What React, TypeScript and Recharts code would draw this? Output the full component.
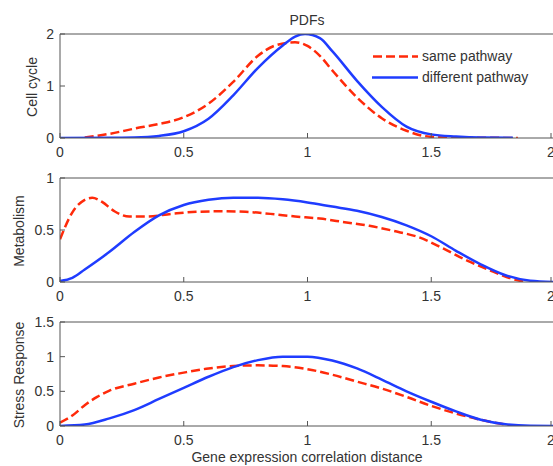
import React from 'react';
import { LineChart, Line, XAxis, YAxis } from 'recharts';

const RED = '#ff2a0a';
const BLUE = '#1f3cff';
const TXT = '#333';
const FONT = '"Liberation Sans", Arial, sans-serif';

const xTicks = [0, 0.5, 1, 1.5, 2];

// Cell cycle
const cellSameX = [0.1, 0.2, 0.3, 0.4, 0.5, 0.6, 0.7, 0.8, 0.87, 0.95, 1.0, 1.05, 1.1, 1.2, 1.3, 1.4, 1.47, 1.55, 1.7, 1.85];
const cellSameY = [0.01, 0.08, 0.18, 0.27, 0.4, 0.66, 1.08, 1.58, 1.78, 1.84, 1.77, 1.58, 1.3, 0.78, 0.38, 0.14, 0.04, 0.01, 0.005, 0];
const cellDiffX = [0, 0.2, 0.3, 0.4, 0.5, 0.6, 0.7, 0.8, 0.9, 0.95, 0.99, 1.05, 1.1, 1.2, 1.3, 1.4, 1.5, 1.6, 1.7, 1.83];
const cellDiffY = [0, 0.005, 0.01, 0.04, 0.13, 0.37, 0.82, 1.35, 1.78, 1.95, 2.0, 1.92, 1.67, 1.1, 0.6, 0.22, 0.07, 0.03, 0.01, 0.005];

// Metabolism
const metaSameX = [0, 0.05, 0.1, 0.13, 0.17, 0.22, 0.28, 0.35, 0.45, 0.55, 0.65, 0.75, 0.85, 0.95, 1.05, 1.15, 1.25, 1.35, 1.45, 1.55, 1.65, 1.75, 1.82, 1.88];
const metaSameY = [0.41, 0.67, 0.79, 0.81, 0.77, 0.68, 0.63, 0.63, 0.655, 0.675, 0.68, 0.675, 0.655, 0.63, 0.61, 0.575, 0.54, 0.49, 0.43, 0.32, 0.2, 0.1, 0.035, 0];
const metaDiffX = [0, 0.05, 0.1, 0.2, 0.3, 0.4, 0.5, 0.6, 0.7, 0.8, 0.9, 1.0, 1.1, 1.2, 1.3, 1.4, 1.5, 1.6, 1.7, 1.8, 1.9, 2.0];
const metaDiffY = [0.01, 0.04, 0.12, 0.29, 0.48, 0.64, 0.74, 0.79, 0.81, 0.81, 0.795, 0.765, 0.725, 0.685, 0.625, 0.545, 0.44, 0.3, 0.17, 0.065, 0.012, 0];

// Stress Response
const stressSameX = [0, 0.05, 0.1, 0.15, 0.2, 0.3, 0.4, 0.5, 0.6, 0.7, 0.8, 0.9, 1.0, 1.1, 1.2, 1.3, 1.4, 1.5, 1.6, 1.7, 1.8, 1.84];
const stressSameY = [0.05, 0.15, 0.3, 0.42, 0.51, 0.61, 0.7, 0.77, 0.83, 0.865, 0.875, 0.865, 0.82, 0.74, 0.64, 0.54, 0.42, 0.29, 0.18, 0.09, 0.02, 0];
const stressDiffX = [0, 0.1, 0.2, 0.3, 0.4, 0.5, 0.6, 0.7, 0.8, 0.9, 1.0, 1.1, 1.2, 1.3, 1.4, 1.5, 1.6, 1.7, 1.8, 1.9, 2.0];
const stressDiffY = [0, 0.02, 0.11, 0.23, 0.39, 0.55, 0.71, 0.85, 0.95, 1.0, 1.0, 0.945, 0.83, 0.67, 0.5, 0.35, 0.21, 0.09, 0.025, 0.003, 0];

const zip = (xs: number[], ys: number[]) => xs.map((x, i) => ({ x, y: ys[i] }));

const fmt = (v: number) => String(v);

// bottom tick: label below, tick line pointing up into the plot
const XTick = (props: any) => {
  const { x, y, payload } = props;
  return (
    <g>
      <line x1={x} x2={x} y1={y - 9} y2={y - 14} stroke="#555" />
      <text x={x} y={y} dy="0.71em" textAnchor="middle" fill={TXT} fontSize={14} fontFamily={FONT}>
        {fmt(payload.value)}
      </text>
    </g>
  );
};

// left tick: label left, tick line pointing right into the plot
const YTick = (props: any) => {
  const { x, y, payload } = props;
  return (
    <g>
      <line x1={x + 6} x2={x + 11} y1={y} y2={y} stroke="#555" />
      <text x={x} y={y} dy="0.36em" textAnchor="end" fill={TXT} fontSize={14} fontFamily={FONT}>
        {fmt(payload.value)}
      </text>
    </g>
  );
};

const LegendBox = () => (
  <div style={{ position: 'absolute', top: 46, left: 372, width: 180, fontFamily: FONT, fontSize: 14, color: TXT, lineHeight: '21px' }}>
    <div style={{ display: 'flex', alignItems: 'center' }}>
      <svg width={50} height={21}>
        <line x1={1} x2={46} y1={10.5} y2={10.5} stroke={RED} strokeWidth={2.5} strokeDasharray="9 4" />
      </svg>
      <span>same pathway</span>
    </div>
    <div style={{ display: 'flex', alignItems: 'center' }}>
      <svg width={50} height={21}>
        <line x1={0} x2={46} y1={10.5} y2={10.5} stroke={BLUE} strokeWidth={2.5} />
      </svg>
      <span>different pathway</span>
    </div>
  </div>
);

function Panel({ top, height, marginTop, yDomain, yTicks, yLabel, yLabelX, same, diff, legend }: any) {
  const plotTop = marginTop;
  const plotH = height - marginTop - 23;
  return (
    <div style={{ position: 'absolute', left: 0, top, width: 553, height, overflow: 'hidden' }}>
      <LineChart width={555} height={height} margin={{ top: marginTop - 1, right: 0, left: 0, bottom: 0 }}>
        <XAxis
          xAxisId="b"
          type="number"
          dataKey="x"
          domain={[0, 2]}
          ticks={xTicks}
          height={23}
          tickSize={0}
          tickMargin={9}
          tickLine={false}
          axisLine={{ stroke: '#555' }}
          tick={<XTick />}
          allowDataOverflow
        />
        <XAxis
          xAxisId="t"
          orientation="top"
          type="number"
          dataKey="x"
          domain={[0, 2]}
          ticks={xTicks}
          height={1}
          mirror
          tickSize={5}
          tick={false}
          tickLine={{ stroke: '#555' }}
          axisLine={{ stroke: '#555' }}
        />
        <YAxis
          yAxisId="l"
          type="number"
          domain={yDomain}
          ticks={yTicks}
          width={60}
          tickSize={0}
          tickMargin={6}
          tickLine={false}
          axisLine={{ stroke: '#555' }}
          tick={<YTick />}
          allowDataOverflow
        />
        <YAxis
          yAxisId="r"
          orientation="right"
          type="number"
          domain={yDomain}
          ticks={yTicks}
          width={1}
          mirror
          tickSize={5}
          tick={false}
          tickLine={{ stroke: '#555' }}
          axisLine={{ stroke: '#555' }}
        />
        <Line
          xAxisId="b"
          yAxisId="l"
          data={same}
          dataKey="y"
          type="monotone"
          stroke={RED}
          strokeWidth={2.5}
          strokeDasharray="9 4"
          dot={false}
          isAnimationActive={false}
        />
        <Line
          xAxisId="b"
          yAxisId="l"
          data={diff}
          dataKey="y"
          type="monotone"
          stroke={BLUE}
          strokeWidth={2.5}
          dot={false}
          isAnimationActive={false}
        />
      </LineChart>
      {legend && <LegendBox />}
      <div
        style={{
          position: 'absolute',
          left: yLabelX,
          top: plotTop + plotH / 2,
          transform: 'translate(-50%, -50%) rotate(-90deg)',
          whiteSpace: 'nowrap',
          fontFamily: FONT,
          fontSize: 14,
          color: TXT,
        }}
      >
        {yLabel}
      </div>
    </div>
  );
}

export default function App() {
  return (
    <div style={{ position: 'absolute', left: 0, top: 0, width: 553, height: 466, background: '#fff', overflow: 'hidden' }}>
      <div style={{ position: 'absolute', left: 0, width: 553, top: 12, textAlign: 'center', paddingLeft: 61, boxSizing: 'border-box', fontFamily: FONT, fontSize: 14, color: TXT, lineHeight: '16px' }}>
        PDFs
      </div>
      <Panel
        top={0}
        height={161}
        marginTop={35}
        yDomain={[0, 2]}
        yTicks={[0, 1, 2]}
        yLabel="Cell cycle"
        yLabelX={32}
        same={zip(cellSameX, cellSameY)}
        diff={zip(cellDiffX, cellDiffY)}
        legend
      />
      <Panel
        top={150}
        height={155}
        marginTop={29}
        yDomain={[0, 1]}
        yTicks={[0, 0.5, 1]}
        yLabel="Metabolism"
        yLabelX={19}
        same={zip(metaSameX, metaSameY)}
        diff={zip(metaDiffX, metaDiffY)}
      />
      <Panel
        top={305}
        height={144}
        marginTop={18}
        yDomain={[0, 1.5]}
        yTicks={[0, 0.5, 1, 1.5]}
        yLabel="Stress Response"
        yLabelX={19}
        same={zip(stressSameX, stressSameY)}
        diff={zip(stressDiffX, stressDiffY)}
      />
      <div style={{ position: 'absolute', left: 0, width: 553, top: 449, textAlign: 'center', paddingLeft: 61, boxSizing: 'border-box', fontFamily: FONT, fontSize: 14, color: TXT, lineHeight: '16px' }}>
        Gene expression correlation distance
      </div>
    </div>
  );
}
